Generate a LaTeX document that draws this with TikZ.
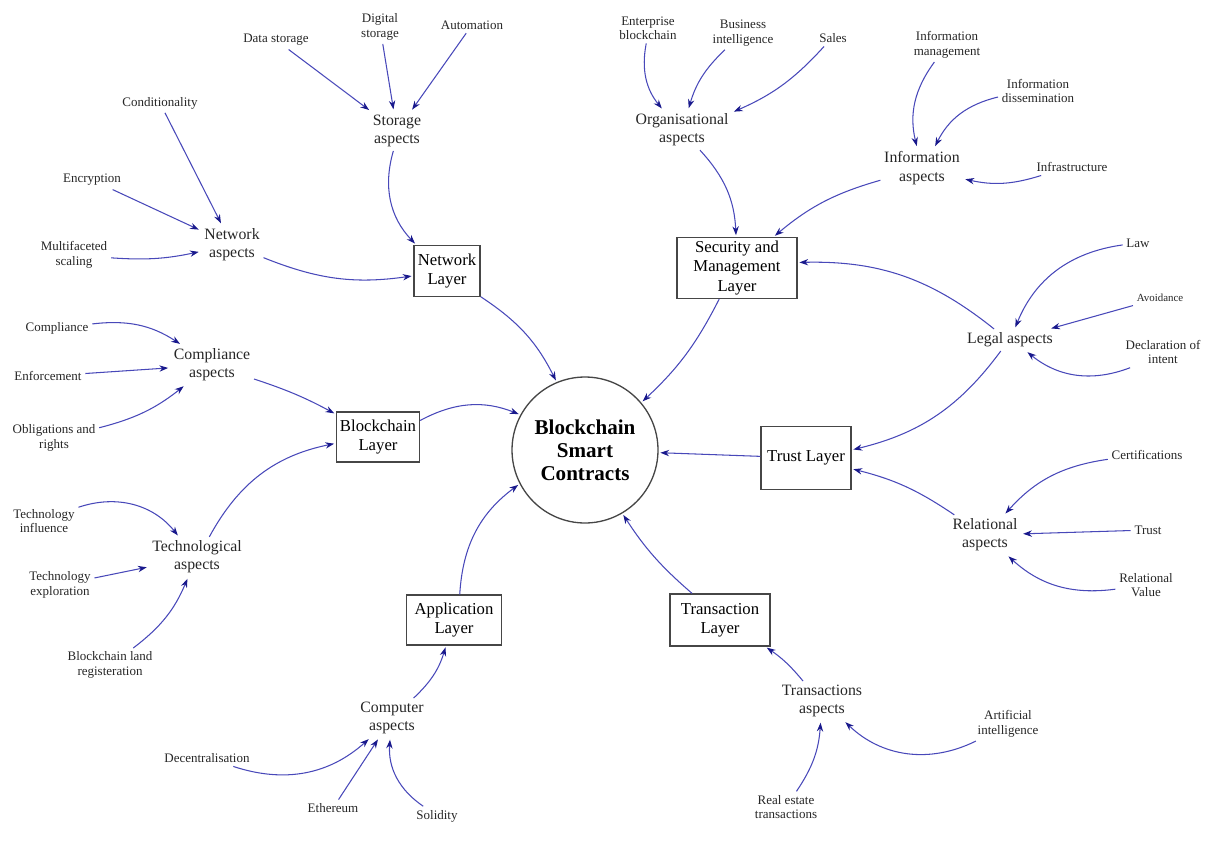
\documentclass[tikz,border=0pt]{standalone}
\usepackage{fontspec}
\setmainfont{Liberation Serif}
\usepackage{tikz}
\usetikzlibrary{arrows.meta,shapes.geometric}

\definecolor{linkblue}{RGB}{72,72,185}
\definecolor{tipblue}{RGB}{25,25,140}
\definecolor{boxgray}{RGB}{70,70,70}

\begin{document}
\begin{tikzpicture}[x=0.02cm,y=0.02cm,
    leaf/.style={font=\fontsize{7.4}{8.2}\selectfont,align=center,inner sep=2pt,text=black!85}, % outer labels
    aspect/.style={font=\fontsize{9}{10.4}\selectfont,align=center,inner sep=2pt,text=black!85}, % aspect labels
    layer/.style={draw=boxgray,line width=0.75pt,font=\fontsize{9.5}{11}\selectfont,align=center,inner sep=2pt}, % layer boxes
    link/.style={draw=linkblue,line width=0.6pt,-{Stealth[length=5pt,width=3.6pt,color=tipblue]},shorten >=1pt} % arrows
  ]

  % Frame
  \useasboundingbox (0,0) rectangle (1207,-842);

  % Centre
  \node[circle,draw=boxgray,line width=0.75pt,minimum size=2.92cm,inner sep=0pt,
        font=\fontsize{12}{13.2}\selectfont\bfseries,align=center] (bsc) at (585,-450) {Blockchain\\Smart\\Contracts};

  % Layers
  \node[layer,minimum width=1.32cm,minimum height=1.02cm] (netlayer) at (447,-271) {Network\\Layer};
  \node[layer,minimum width=2.4cm,minimum height=1.12cm] (seclayer) at (737,-268) {Security and\\Management\\Layer};
  \node[layer,minimum width=1.8cm,minimum height=1.26cm] (trustlayer) at (806,-458) {Trust Layer};
  \node[layer,minimum width=2.0cm,minimum height=1.04cm] (translayer) at (720,-620) {Transaction\\Layer};
  \node[layer,minimum width=1.9cm,minimum height=1.0cm] (applayer) at (454,-620) {Application\\Layer};
  \node[layer,minimum width=1.62cm,minimum height=1.0cm] (bclayer) at (378,-437) {Blockchain\\Layer};

  % Aspects
  \node[aspect] (storasp) at (397,-131) {Storage\\aspects};
  \node[aspect] (netasp) at (232,-245) {Network\\aspects};
  \node[aspect] (orgasp) at (682,-130) {Organisational\\aspects};
  \node[aspect] (infoasp) at (922,-168) {Information\\aspects};
  \node[aspect] (legasp) at (1010,-340) {Legal aspects};
  \node[aspect] (relasp) at (985,-535) {Relational\\aspects};
  \node[aspect] (transasp) at (822,-701) {Transactions\\aspects};
  \node[aspect] (compasp) at (392,-718) {Computer\\aspects};
  \node[aspect] (complasp) at (212,-365) {Compliance\\aspects};
  \node[aspect] (techasp) at (197,-557) {Technological\\aspects};

  % Outer labels
  \node[leaf] (datast) at (276,-40) {Data storage};
  \node[leaf] (digst) at (380,-27) {Digital\\storage};
  \node[leaf] (autom) at (472,-25) {Automation};
  \node[leaf] (cond) at (160,-103) {Conditionality};
  \node[leaf] (encr) at (92,-180) {Encryption};
  \node[leaf] (multi) at (74,-255) {Multifaceted\\scaling};
  \node[leaf] (entbc) at (648,-28) {Enterprise\\blockchain};
  \node[leaf] (busint) at (743,-33) {Business\\intelligence};
  \node[leaf] (sales) at (833,-38) {Sales};
  \node[leaf] (infomgmt) at (947,-45) {Information\\management};
  \node[leaf] (infodiss) at (1038,-91) {Information\\dissemination};
  \node[leaf] (infra) at (1072,-167) {Infrastructure};
  \node[leaf] (law) at (1138,-243) {Law};
  \node[leaf,font=\fontsize{6.2}{7}\selectfont] (avoid) at (1160,-298) {Avoidance};
  \node[leaf] (decl) at (1163,-352) {Declaration of\\intent};
  \node[leaf] (cert) at (1147,-455) {Certifications};
  \node[leaf] (trust) at (1148,-530) {Trust};
  \node[leaf] (relval) at (1146,-585) {Relational\\Value};
  \node[leaf] (ai) at (1008,-724) {Artificial\\intelligence};
  \node[leaf] (realest) at (786,-807) {Real estate\\transactions};
  \node[leaf] (decent) at (207,-758) {Decentralisation};
  \node[leaf] (ether) at (333,-808) {Ethereum};
  \node[leaf] (solid) at (437,-816) {Solidity};
  \node[leaf] (compl) at (57,-328) {Compliance};
  \node[leaf] (enforce) at (48,-376) {Enforcement};
  \node[leaf] (oblig) at (54,-438) {Obligations and\\rights};
  \node[leaf] (techinf) at (44,-521) {Technology\\influence};
  \node[leaf] (techexp) at (60,-585) {Technology\\exploration};
  \node[leaf] (bcland) at (110,-665) {Blockchain land\\registeration};

  % Storage and network
  \draw[link] (datast) -- (storasp);
  \draw[link] (digst) -- (storasp);
  \draw[link] (autom) -- (storasp);
  \draw[link] (storasp) to[bend right=30] (netlayer);
  \draw[link] (cond) -- (netasp);
  \draw[link] (encr) -- (netasp);
  \draw[link] (multi) to[bend right=8] (netasp);
  \draw[link] (netasp) to[bend right=15] (netlayer);
  \draw[link] (netlayer) to[bend left=15] (bsc);

  % Security and management
  \draw[link] (entbc) to[bend right=25] (orgasp);
  \draw[link] (busint) to[bend right=15] (orgasp);
  \draw[link] (sales) to[bend left=12] (orgasp);
  \draw[link] (orgasp) to[bend left=20] (seclayer);
  \draw[link] (infomgmt) to[bend right=25] (infoasp);
  \draw[link] (infodiss) to[bend right=25] (infoasp);
  \draw[link] (infra) to[bend left=15] (infoasp);
  \draw[link] (infoasp) to[bend right=12] (seclayer);
  \draw[link] (seclayer) to[bend left=10] (bsc);

  % Legal and trust
  \draw[link] (law) to[bend right=30] (legasp);
  \draw[link] (avoid) -- (legasp);
  \draw[link] (decl) to[bend left=30] (legasp);
  \draw[link] (legasp) to[bend right=20] (seclayer);
  \draw[link] (legasp) to[bend left=20] (trustlayer);
  \draw[link] (trustlayer) -- (bsc);
  \draw[link] (cert) to[bend right=20] (relasp);
  \draw[link] (trust) -- (relasp);
  \draw[link] (relval) to[bend left=25] (relasp);
  \draw[link] (relasp) to[bend right=10] (trustlayer);

  % Transactions
  \draw[link] (translayer) to[bend left=8] (bsc);
  \draw[link] (transasp) to[bend right=8] (translayer);
  \draw[link] (ai) to[bend left=35] (transasp);
  \draw[link] (realest) to[bend right=15] (transasp);

  % Application
  \draw[link] (applayer) to[bend left=25] (bsc);
  \draw[link] (compasp) to[bend right=15] (applayer);
  \draw[link] (decent) to[bend right=30] (compasp);
  \draw[link] (ether) -- (compasp);
  \draw[link] (solid) to[bend left=30] (compasp);

  % Blockchain
  \draw[link] (bclayer) to[bend left=25] (bsc);
  \draw[link] (complasp) to[bend left=5] (bclayer);
  \draw[link] (techasp) to[bend left=25] (bclayer);
  \draw[link] (compl) to[bend left=20] (complasp);
  \draw[link] (enforce) -- (complasp);
  \draw[link] (oblig) to[bend right=12] (complasp);
  \draw[link] (techinf) to[bend left=35] (techasp);
  \draw[link] (techexp) -- (techasp);
  \draw[link] (bcland) to[bend right=15] (techasp);

\end{tikzpicture}
\end{document}
